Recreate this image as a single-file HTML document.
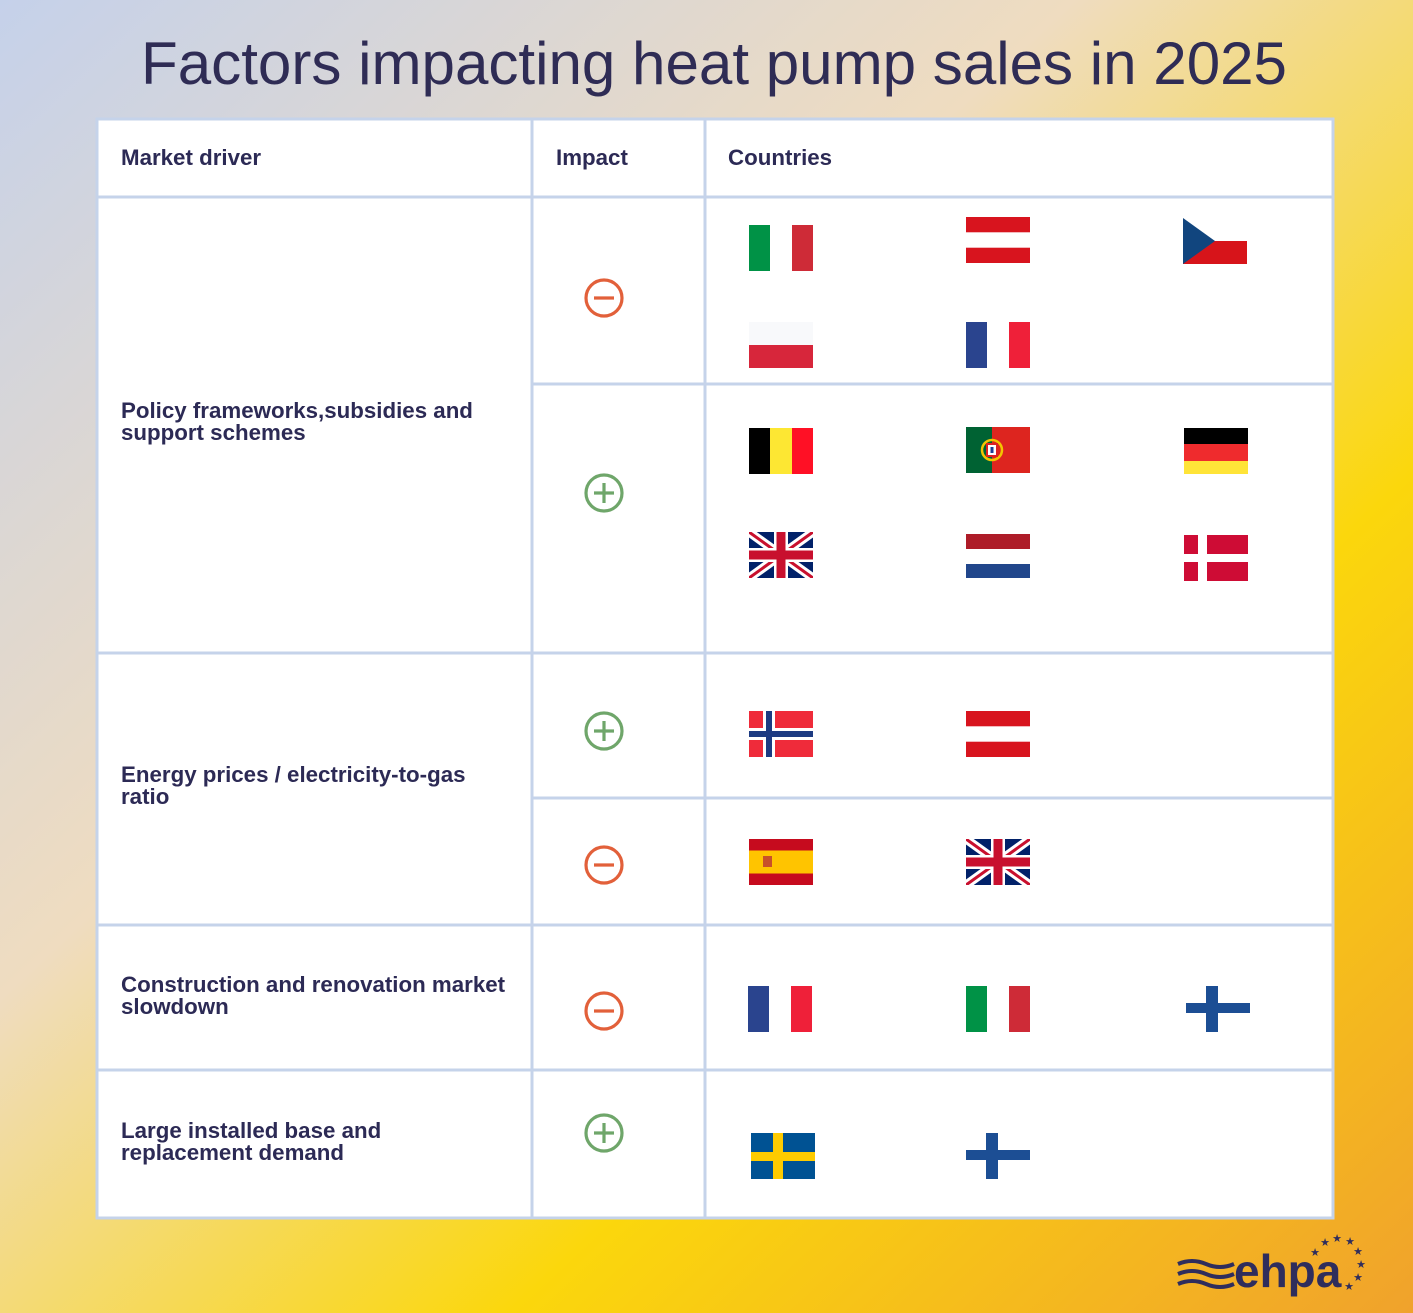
<!DOCTYPE html>
<html><head><meta charset="utf-8"><style>
html,body{margin:0;padding:0;width:1413px;height:1313px;overflow:hidden}
body{background:#f3c642}
svg{display:block}
</style></head><body>
<svg width="1413" height="1313" viewBox="0 0 1413 1313" xmlns="http://www.w3.org/2000/svg">
<defs>
<linearGradient id="bg" x1="0" y1="0" x2="1" y2="1">
<stop offset="0" stop-color="#c5d1ea"/>
<stop offset="0.38" stop-color="#efdcc0"/>
<stop offset="0.68" stop-color="#fbd70c"/>
<stop offset="1" stop-color="#f0a22c"/>
</linearGradient>
<clipPath id="ukc"><rect width="64" height="46"/></clipPath>
<symbol id="it" viewBox="0 0 64 46"><rect width="21" height="46" fill="#009246"/><rect x="21" width="22" height="46" fill="#fff"/><rect x="43" width="21" height="46" fill="#ce2b37"/></symbol>
<symbol id="fr" viewBox="0 0 64 46"><rect width="21" height="46" fill="#2a448e"/><rect x="21" width="22" height="46" fill="#fff"/><rect x="43" width="21" height="46" fill="#ef2039"/></symbol>
<symbol id="at" viewBox="0 0 64 46"><rect width="64" height="46" fill="#d8141e"/><rect y="15.3" width="64" height="15.4" fill="#fff"/></symbol>
<symbol id="cz" viewBox="0 0 64 46"><rect width="64" height="23" fill="#fff"/><rect y="23" width="64" height="23" fill="#d7141a"/><path d="M0 0L32 23L0 46Z" fill="#11457e"/></symbol>
<symbol id="pl" viewBox="0 0 64 46"><rect width="64" height="23" fill="#f8f9fb"/><rect y="23" width="64" height="23" fill="#d7263b"/></symbol>
<symbol id="be" viewBox="0 0 64 46"><rect width="21" height="46" fill="#000"/><rect x="21" width="22" height="46" fill="#fde733"/><rect x="43" width="21" height="46" fill="#ff1025"/></symbol>
<symbol id="pt" viewBox="0 0 64 46"><rect width="26" height="46" fill="#006233"/><rect x="26" width="38" height="46" fill="#dd251f"/><circle cx="26" cy="23" r="10" fill="none" stroke="#f2c500" stroke-width="2.5"/><rect x="21" y="17" width="10" height="12" fill="#fff" stroke="#d22" stroke-width="2"/><rect x="24.5" y="20" width="3" height="6" fill="#1c3e95"/></symbol>
<symbol id="de" viewBox="0 0 64 46"><rect width="64" height="16" fill="#000"/><rect y="16" width="64" height="17" fill="#ef2b2d"/><rect y="33" width="64" height="13" fill="#ffe438"/></symbol>
<symbol id="uk" viewBox="0 0 64 46"><g clip-path="url(#ukc)"><rect width="64" height="46" fill="#012169"/><path d="M0 0L64 46M64 0L0 46" stroke="#fff" stroke-width="9"/><path d="M0 0L64 46M64 0L0 46" stroke="#c8102e" stroke-width="3"/><path d="M32 0V46M0 23H64" stroke="#fff" stroke-width="14"/><path d="M32 0V46M0 23H64" stroke="#c8102e" stroke-width="9"/></g></symbol>
<symbol id="nl" viewBox="0 0 64 46"><rect y="2" width="64" height="15" fill="#ae1c28"/><rect y="17" width="64" height="15" fill="#fff"/><rect y="32" width="64" height="14" fill="#21468b"/></symbol>
<symbol id="dk" viewBox="0 0 64 46"><rect width="64" height="46" fill="#ce0c35"/><rect x="14" width="9" height="46" fill="#fff"/><rect y="19" width="64" height="8" fill="#fff"/></symbol>
<symbol id="no" viewBox="0 0 64 46"><rect width="64" height="46" fill="#ef2b3a"/><rect x="14" width="12" height="46" fill="#fff"/><rect y="17" width="64" height="12" fill="#fff"/><rect x="17" width="6" height="46" fill="#1d3b82"/><rect y="20" width="64" height="6" fill="#1d3b82"/></symbol>
<symbol id="es" viewBox="0 0 64 46"><rect width="64" height="46" fill="#c60b1e"/><rect y="11.5" width="64" height="23" fill="#ffc400"/><rect x="14" y="17" width="9" height="11" fill="#c8502a"/></symbol>
<symbol id="fi" viewBox="0 0 64 46"><rect width="64" height="46" fill="#fff"/><rect x="20" width="12" height="46" fill="#1c4e94"/><rect y="17" width="64" height="10" fill="#1c4e94"/></symbol>
<symbol id="se" viewBox="0 0 64 46"><rect width="64" height="46" fill="#005293"/><rect x="22" width="10" height="46" fill="#fecb00"/><rect y="19" width="64" height="9" fill="#fecb00"/></symbol>
</defs>
<rect width="1413" height="1313" fill="url(#bg)"/>
<text x="714" y="84" text-anchor="middle" font-family="Liberation Sans, sans-serif" font-size="60" textLength="1146" lengthAdjust="spacingAndGlyphs" fill="#2f2c55">Factors impacting heat pump sales in 2025</text>

<rect x="97" y="119" width="1236" height="1099" fill="#fff" stroke="#c5d3ea" stroke-width="3"/>
<g stroke="#c5d3ea" stroke-width="3">
<line x1="532" y1="119" x2="532" y2="1218"/>
<line x1="705" y1="119" x2="705" y2="1218"/>
<line x1="97" y1="197" x2="1333" y2="197"/>
<line x1="532" y1="384" x2="1333" y2="384"/>
<line x1="97" y1="653" x2="1333" y2="653"/>
<line x1="532" y1="798" x2="1333" y2="798"/>
<line x1="97" y1="925" x2="1333" y2="925"/>
<line x1="97" y1="1070" x2="1333" y2="1070"/>
</g>
<g font-family="Liberation Sans, sans-serif" font-weight="bold" font-size="22.3" fill="#2c2a55">
<text x="121" y="165">Market driver</text>
<text x="556" y="165">Impact</text>
<text x="728" y="165">Countries</text>
<text x="121" y="418">Policy frameworks,subsidies and</text>
<text x="121" y="440">support schemes</text>
<text x="121" y="782">Energy prices / electricity-to-gas</text>
<text x="121" y="804">ratio</text>
<text x="121" y="992">Construction and renovation market</text>
<text x="121" y="1014">slowdown</text>
<text x="121" y="1138">Large installed base and</text>
<text x="121" y="1160">replacement demand</text>
</g>
<g fill="none" stroke-width="3.2">
<g stroke="#e2603a"><circle cx="604" cy="298" r="18"/><path d="M594 298H614"/>
<circle cx="604" cy="865" r="18"/><path d="M594 865H614"/>
<circle cx="604" cy="1011" r="18"/><path d="M594 1011H614"/></g>
<g stroke="#6fa66a"><circle cx="604" cy="493" r="18"/><path d="M594 493H614M604 483V503"/>
<circle cx="604" cy="731" r="18"/><path d="M594 731H614M604 721V741"/>
<circle cx="604" cy="1133" r="18"/><path d="M594 1133H614M604 1123V1143"/></g>
</g>
<use href="#it" x="749" y="225" width="64" height="46"/>
<use href="#at" x="966" y="217" width="64" height="46"/>
<use href="#cz" x="1183" y="218" width="64" height="46"/>
<use href="#pl" x="749" y="322" width="64" height="46"/>
<use href="#fr" x="966" y="322" width="64" height="46"/>
<use href="#be" x="749" y="428" width="64" height="46"/>
<use href="#pt" x="966" y="427" width="64" height="46"/>
<use href="#de" x="1184" y="428" width="64" height="46"/>
<use href="#uk" x="749" y="532" width="64" height="46"/>
<use href="#nl" x="966" y="532" width="64" height="46"/>
<use href="#dk" x="1184" y="535" width="64" height="46"/>
<use href="#no" x="749" y="711" width="64" height="46"/>
<use href="#at" x="966" y="711" width="64" height="46"/>
<use href="#es" x="749" y="839" width="64" height="46"/>
<use href="#uk" x="966" y="839" width="64" height="46"/>
<use href="#fr" x="748" y="986" width="64" height="46"/>
<use href="#it" x="966" y="986" width="64" height="46"/>
<use href="#fi" x="1186" y="986" width="64" height="46"/>
<use href="#se" x="751" y="1133" width="64" height="46"/>
<use href="#fi" x="966" y="1133" width="64" height="46"/>

<g fill="none" stroke="#2f2d5c" stroke-width="4">
<path d="M1178 1264q14-6 28 0t28 0"/>
<path d="M1178 1274q14-6 28 0t28 0"/>
<path d="M1178 1284q14-6 28 0t28 0"/>
</g>
<text x="1234" y="1287" font-family="Liberation Sans, sans-serif" font-weight="bold" font-size="46" fill="#2f2d5c">ehpa</text>
<g font-family="DejaVu Sans, sans-serif" font-size="11" fill="#2f2d5c" text-anchor="middle">
<text x="1315" y="1256">★</text><text x="1325" y="1246">★</text><text x="1337" y="1242">★</text>
<text x="1350" y="1245">★</text><text x="1358" y="1255">★</text><text x="1361" y="1268">★</text>
<text x="1358" y="1281">★</text><text x="1349" y="1290">★</text>
</g>
</svg>
</body></html>
